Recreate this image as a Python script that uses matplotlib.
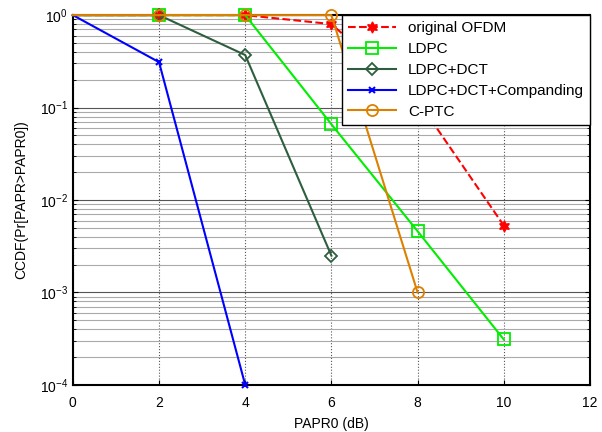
import numpy as np
import matplotlib.pyplot as plt

plt.rcParams['font.family'] = ['Liberation Sans', 'DejaVu Sans']

# data
x_ofdm = [0, 2, 4, 6, 8, 10]
y_ofdm = [1, 1, 1, 0.8, 0.12, 5.3e-3]
x_ldpc = [0, 2, 4, 6, 8, 10]
y_ldpc = [1, 1, 1, 0.066, 4.6e-3, 3.1e-4]
x_dct = [0, 2, 4, 6]
y_dct = [1, 1, 0.37, 2.5e-3]
x_comp = [0, 2, 4]
y_comp = [1, 0.31, 1e-4]
x_cptc = [0, 2, 4, 6, 8]
y_cptc = [1, 1, 1, 1, 1e-3]

fig = plt.figure(figsize=(6.02, 4.32), dpi=100)
ax = fig.add_axes([0.121, 0.109, 0.859, 0.856])

# no markers drawn on the x=0 edge in the reference
skip0 = slice(1, None)
ax.plot(x_ofdm, y_ofdm, '--', color='red', marker=(6, 1, 0), ms=8, mfc='red', lw=1.5,
        markevery=skip0, label='original OFDM', clip_on=False, zorder=3)
ax.plot(x_ldpc, y_ldpc, '-', color='#00ee00', marker='s', ms=8, mfc='none', mew=1.3, lw=1.5,
        markevery=skip0, label='LDPC', clip_on=False, zorder=3)
ax.plot(x_dct, y_dct, '-', color='#2e5e3e', marker='D', ms=6, mfc='none', mew=1.3, lw=1.5,
        markevery=skip0, label='LDPC+DCT', clip_on=False, zorder=3)
ax.plot(x_comp, y_comp, '-', color='#0000ff', marker='x', ms=4, mew=1.5, lw=1.5,
        markevery=skip0, label='LDPC+DCT+Companding', clip_on=False, zorder=3)
ax.plot(x_cptc, y_cptc, '-', color='#dd8000', marker='o', ms=8, mfc='none', mew=1.3, lw=1.5,
        markevery=skip0, label='C-PTC', clip_on=False, zorder=4)

ax.set_yscale('log')
ax.set_xlim(0, 12)
ax.set_ylim(1e-4, 1)
ax.set_xticks([0, 2, 4, 6, 8, 10, 12])
ax.set_yticks([1e-4, 1e-3, 1e-2, 1e-1, 1])

ax.grid(True, which='major', axis='y', color='#555555', lw=0.8)
ax.grid(True, which='minor', axis='y', color='#aaaaaa', lw=0.8)
ax.grid(True, which='major', axis='x', color='#555555', lw=0.8, ls=':')
ax.tick_params(which='both', direction='in', labelsize=10, top=False, right=True)
ax.tick_params(axis='x', pad=8)
for s in ax.spines.values():
    s.set_linewidth(1.5)

ax.set_xlabel('PAPR0 (dB)', fontsize=10, labelpad=5)
ax.set_ylabel('CCDF(Pr[PAPR>PAPR0])', fontsize=10, labelpad=8)

leg = ax.legend(loc='upper right', fontsize=11, fancybox=False, framealpha=1,
                edgecolor='black', handlelength=3.1, borderaxespad=0, labelspacing=0.45)
leg.get_frame().set_linewidth(1)

fig.savefig('out.png', dpi=100)
